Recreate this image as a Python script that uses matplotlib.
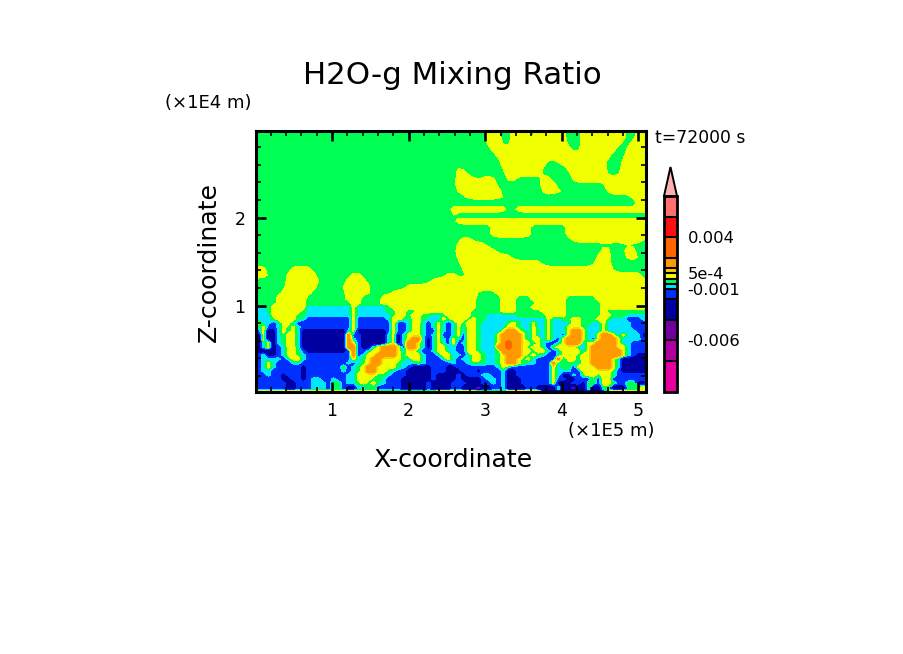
import re
import numpy as np
import matplotlib
matplotlib.use("Agg")
import matplotlib.pyplot as plt
from matplotlib.colors import ListedColormap, BoundaryNorm
from matplotlib.ticker import MultipleLocator

W, H = 904, 654

# ---- colour classes: water-vapour anomaly ----
class_values = {'p': -0.005, 'n': -0.003, 'b': -0.0015, 'c': -0.00075, 'g': -0.00025,
                'y': 0.00025, 'o': 0.00075, 'O': 0.0015, 'R': 0.003}
levels = [-0.011, -0.008, -0.006, -0.004, -0.002, -0.001, -5e-4, 0, 5e-4, 0.001,
          0.002, 0.004, 0.006, 0.008]
colors = ['#E600A0', '#B000A0', '#7000A0', '#0000A0', '#0030FF', '#00E6FF', '#00FF55',
          '#F0FF00', '#FFCC00', '#FF9900', '#FF6600', '#FF1010', '#FF7070']
over_color = '#FFB0B0'
cbar_ticks = [0.004, 5e-4, -0.001, -0.006]
cbar_labels = ['0.004', '5e-4', '-0.001', '-0.006']

# each row, top to bottom: class letter + column where that class ends
rows_upper = [
 "g46 y49 g51 y53 g54 y55 g56 y62 g65 y67 g68 y70 g71 y74 g76 y79",
 "g46 y49 g51 y53 g54 y55 g56 y62 g65 y67 g68 y70 g71 y74 g76 y79",
 "g46 y49 g51 y55 g56 y62 g65 y73 g75 y79",
 "g47 y63 g65 y72 g74 y79",
 "g48 y68 g69 y71 g74 y79",
 "g49 y58 g60 y70 g73 y77 g79",
 "g40 y41 g49 y57 g58 y59 g62 y70 g73 y79",
 "g40 y42 g50 y57 g63 y70 g73 y79",
 "g40 y44 g45 y48 g50 y52 g57 y59 g63 y79",
 "g40 y48 g57 y60 g70 y79",
 "g40 y49 g57 y62 g70 y79",
 "g42 y50 g75 y79",
 "g76 y79",
 "g39 y50 g52 y79",
 "g39 y40 g79",
 "g40 y79",
 "g47 y55 g62 y78 g79",
 "g47 y55 g62 y78 g79",
 "g41 y43 g63 y78 g79",
 "g40 y46 g79",
 "g40 y48 g61 y62 g69 y71 g73 y76 g79",
 "g40 y51 g68 y71 g74 y77 g79",
 "g41 y57 g68 y71 g79",
 "y2 g7 y11 g41 y71 g79",
 "y3 g6 y12 g19 y21 g38 y40 g43 y77 g79",
 "g6 y13 g18 y22 g35 y78 g79",
 "g6 y12 g17 y23 g30 y79",
 "g5 y11 g18 y23 g27 y44 g48 y79",
 "g4 y10 g18 y21 g25 y44 g49 y52 g55 y62 g68 y79",
]
band_rows = [13, 14, 15, 16]   # thin horizontal bands, kept sharp in the vertical
rows_lower = [
 "g4 y10 g19 y21 g25 y44 g49 y52 g56 y62 g69 y79",
 "c2 g3 y10 c19 y20 c26 g27 y44 g49 y52 g55 y62 g69 y78 g79",
 "c2 g3 y9 g10 c19 y20 c26 g28 y30 g32 y43 g49 y52 g57 y62 g69 y70 g79",
 "c3 y8 g10 c19 y20 c27 g28 y30 g31 y33 g35 c37 g38 y43 g46 c52 g58 y62 g69 y71 g74 c79",
 "c3 g4 y8 g9 c10 b19 y20 b26 c27 y29 g30 c31 y33 g34 c37 y38 g39 y42 g43 y44 g46 c58 y59 c61 g63 y65 g68 y70 g71 c74 b77 c79",
 "y1 c3 b4 c5 y7 c8 b19 y20 b27 y28 b30 c31 y33 c34 b35 c36 y37 c38 b39 c40 y41 g42 y44 g45 c50 g51 y52 g53 c55 y56 c58 y59 c63 y65 g67 c69 y70 c75 b79",
 "c1 y2 b4 c5 y6 g7 y8 c9 b19 y20 b27 y28 b30 c31 y33 c34 b35 c36 y37 c38 b39 c40 y41 c42 y44 g45 c50 y52 g53 c55 y56 c58 y59 c62 y65 g66 c69 y70 c75 b79",
 "b1 y2 n4 c5 y6 g7 y8 c9 n18 c19 y20 n26 b27 y28 b30 c31 y33 c34 b36 y37 c38 b39 c40 y41 c42 y44 g45 c49 y50 O52 y53 g54 c55 y56 g57 c58 y59 c62 y63 O65 y66 c69 y70 c76 b79",
 "n1 y2 n4 c5 g6 y8 c9 n18 O19 b21 n26 c27 y28 n29 c30 y33 c34 b35 c36 y37 b39 c40 y41 b42 y44 g45 c48 y49 O53 y54 c55 y56 c58 y59 c61 b62 y63 O65 y66 c68 y69 O71 y72 c73 y74 c77 n79",
 "n1 y2 n4 c5 g6 y8 c9 n18 O19 c20 b21 n26 c27 y28 n29 c30 y31 O33 c34 n35 c36 y37 c38 b39 y40 c41 b42 y44 g45 c48 y49 O53 y54 c55 y57 c58 y59 c60 b61 y62 O65 y66 c67 b68 y69 O72 y73 c77 b79",
 "n1 c2 y3 n4 c5 g6 y8 c9 n18 O19 y20 b21 n26 c27 y28 n29 c30 O32 y33 c34 n35 c36 y37 c38 b39 y40 b41 c42 y44 g45 c48 y49 O50 R51 O53 y55 c56 y57 c58 b60 c61 y62 O65 c66 y68 O72 y73 c75 b79",
 "n1 c2 y3 n4 b5 c6 y8 c9 n18 O20 b21 n23 c24 y25 O28 y29 b30 O32 y33 c34 n35 c36 y38 c40 b42 y44 g45 c48 O50 R51 O53 y54 g55 y57 c58 b59 g60 y64 c66 y67 O72 y74 c75 b79",
 "n4 b5 c6 y8 g9 b10 n18 b19 O20 b22 c23 y25 O28 y29 c30 y32 c33 b35 c36 y38 c40 b42 y44 g45 c48 g49 O53 y55 g56 y58 c59 b60 c61 y65 c66 y67 O73 y74 c75 b79",
 "b1 c2 n4 b5 c6 y8 g9 c10 b19 O20 b21 c22 y24 O28 y29 g30 y33 c34 b36 c37 y39 c41 b42 c43 y45 g46 c48 g49 y50 O53 y54 g55 y56 g57 c58 b60 c61 y64 g65 y67 O73 y74 c75 b76 n79",
 "b1 c5 b6 c7 y9 c10 b19 y20 c21 g22 y23 O25 y29 g30 c31 y33 c34 b37 c38 y39 c40 b41 c43 y45 g46 c48 g49 y50 O52 y53 g54 y55 c56 b60 O61 c62 y64 g65 y67 O71 y72 c73 n79",
 "b1 c2 y3 c4 b7 c9 b18 c19 b20 c21 g22 y23 O25 y28 g29 c32 g33 c34 b39 c40 b42 c43 g46 c48 g49 y50 O52 y53 g54 c56 b59 O60 c61 g64 c65 y67 O71 y72 c73 n79",
 "b1 c2 y3 c4 b9 n10 b17 g18 b19 c20 g21 y22 O24 y28 g29 c30 b31 n35 b38 n40 b48 c49 y50 c51 b59 y60 c61 g63 b64 y68 O71 y72 c73 n79",
 "b1 c3 b9 n10 b17 c18 b19 c20 g21 y22 O24 y26 g27 c28 b30 n35 b38 n41 b44 n45 b49 c50 n52 b59 y60 c63 b65 y71 g72 b73 n79",
 "b2 c3 b5 n6 b9 n10 b18 c19 b19 c20 y24 g26 c27 b30 n35 b36 n40 b41 n42 b45 c47 b49 c50 n52 b59 y60 c61 n63 c64 b65 g66 y68 g69 y71 g72 b79",
 "b5 n7 b9 n10 b11 c13 b15 c16 b18 c19 c20 y23 g25 c26 b29 n35 b36 n40 b41 n45 b46 c48 b49 c50 n53 b59 y60 b62 n64 b67 g68 b69 y71 b79",
 "b6 n8 b11 c14 b15 g17 b18 c20 g21 y22 g23 y24 g25 c26 b29 n34 b35 n39 b42 n45 b47 c48 b49 c50 n53 b59 y60 n63 b65 n66 g68 b69 y71 g72 b74 g76 n78 b79",
 "b6 n8 b11 c14 b15 g17 b18 n20 c22 g24 b29 n34 b35 n39 b41 n44 p45 n47 b49 c50 n54 b56 n60 c61 n63 p64 n66 g67 n69 g71 n74 g77 y78 b79",
 "b6 n8 b11 c14 b15 g17 b18 n20 c22 g24 b29 n34 b35 n39 b41 n44 p45 n47 b49 c50 n54 b56 n60 c61 n63 p64 n66 g67 n69 g71 n74 g77 y78 b79",
 "y24 g36 y44 g50 y57 n70 y79",
]


def decode(row):
    out, start = [], 0
    for letter, end in re.findall(r'([a-zA-Z])(\d+)', row):
        out += [class_values[letter]] * (int(end) - start)
        start = int(end)
    return out[:79] + [out[-1]] * (79 - len(out))


Z_upper = np.array([decode(r) for r in rows_upper], dtype=float)
Z_lower = np.array([decode(r) for r in rows_lower], dtype=float)

# soften the staircase of the hand-read two-colour upper part
kernel = np.array([0.25, 0.5, 0.25])
smooth_x = np.apply_along_axis(lambda v: np.convolve(np.pad(v, 1, mode='edge'), kernel, mode='valid'), 1, Z_upper)
smooth_xz = np.apply_along_axis(lambda v: np.convolve(np.pad(v, 1, mode='edge'), kernel, mode='valid'), 0, smooth_x)
smooth_xz[band_rows] = smooth_x[band_rows]
smooth_xz[[12, 17]] = Z_upper[[12, 17]]
smooth_xz[-1] = Z_upper[-1]
Z = np.vstack([smooth_xz, Z_lower])

# axis ranges, in units of 1E5 m and 1E4 m
xlim = (0.008, 5.093)
zlim = (0.025, 2.985)
dx = 5 / 76.6
dz = 1 / 88
x = np.concatenate([[xlim[0]], xlim[0] + (np.arange(79) + 0.5) * dx])
z_up = zlim[1] - np.arange(len(rows_upper)) * 6 * dz
z_low = z_up[-1] - np.concatenate([np.arange(1, 23) * 4, [90, 92]]) * dz
z = np.concatenate([z_up, z_low])
Zfull = np.column_stack([Z[:, 0], Z])

fig = plt.figure(figsize=(W / 100, H / 100), dpi=100, facecolor='white')


def box(l, t, r, b):
    return [l / W, 1 - b / H, (r - l) / W, (b - t) / H]


ax = fig.add_axes(box(256, 131, 645.5, 391.5))
cmap = ListedColormap(colors)
cmap.set_over(over_color)
norm = BoundaryNorm(levels, cmap.N, clip=False)
cs = ax.contourf(x, z, Zfull, levels=levels, cmap=cmap, norm=norm, extend='max', antialiased=False)
ax.set_xlim(*xlim)
ax.set_ylim(*zlim)
for s in ax.spines.values():
    s.set_linewidth(2.2)
ax.xaxis.set_minor_locator(MultipleLocator(0.2))
ax.yaxis.set_minor_locator(MultipleLocator(0.2))
ax.set_xticks([1, 2, 3, 4, 5])
ax.set_yticks([1, 2])
ax.tick_params(which='major', direction='in', length=7.2, width=1.9, top=True, right=True,
               labelsize=12.5, pad=7.5)
ax.tick_params(which='minor', direction='in', length=3.6, width=1.2, top=True, right=True)

# colour bar
cax = fig.add_axes(box(664, 196, 677, 392))
sm = plt.cm.ScalarMappable(norm=norm, cmap=cmap)
cb = fig.colorbar(sm, cax=cax, spacing='proportional', drawedges=True, extend='neither')
cb.ax.set_ylim(-0.011, 0.008)
cb.dividers.set_color('black')
cb.dividers.set_linewidth(1.5)
cb.outline.set_linewidth(2)
cb.set_ticks(cbar_ticks)
cb.set_ticklabels(cbar_labels)
cb.ax.minorticks_off()
cb.ax.tick_params(which='both', length=0, labelsize=11.8, pad=7.5)

# extension tip of the colour bar, above the last level
tip = fig.add_axes(box(664, 167, 677, 196))
tip.axis('off')
tip.set_xlim(0, 1)
tip.set_ylim(0, 1)
tip.fill([0, 0.5, 1], [0, 1, 0], facecolor=over_color, edgecolor='black', linewidth=1.4, clip_on=False)


def label(px, py, s, **kw):
    fig.text(px / W, 1 - py / H, s, ha='center', va='center', color='black', **kw)


label(452, 76, 'H2O-g Mixing Ratio', fontsize=22.2)
label(208, 103, '(\u00d71E4 m)', fontsize=13)
label(700.5, 138, 't=72000 s', fontsize=12.4)
label(611, 431, '(\u00d71E5 m)', fontsize=13)
label(452.5, 460, 'X-coordinate', fontsize=18.2)
label(209, 262, 'Z-coordinate', fontsize=18.2, rotation=90)

fig.savefig('out.png', dpi=100)
